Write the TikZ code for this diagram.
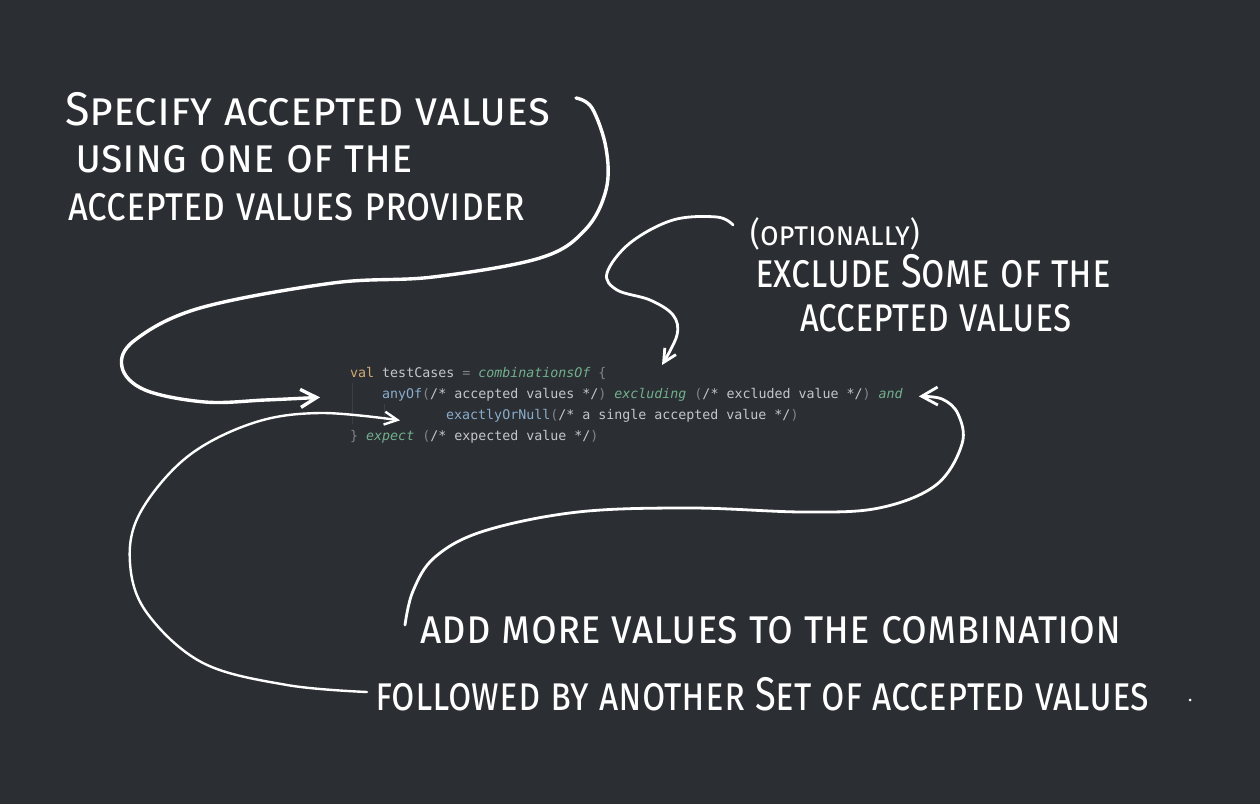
\documentclass[tikz,border=0pt]{standalone}
\usepackage{fontspec}
\setmainfont{Fira Sans}
\newfontfamily\handfont[Letters=SmallCaps]{Fira Sans}
\setmonofont{DejaVu Sans Mono}
\usetikzlibrary{arrows.meta,calc,positioning}
\definecolor{BoardBg}{HTML}{2B2E33}
\definecolor{Chalk}{HTML}{FFFFFF}
\definecolor{CodeText}{HTML}{C4C6CB}
\definecolor{CodeKey}{HTML}{D2AC72}
\definecolor{CodeCall}{HTML}{8AADCD}
\definecolor{CodeInfix}{HTML}{72B08D}
\definecolor{CodePunct}{HTML}{80848A}
\definecolor{CodeGuide}{HTML}{3C4046}
\tikzset{
  every node/.style={text=Chalk, inner sep=0pt},
  note/.style={font=\handfont\fontsize{40}{46}\selectfont, anchor=base west, text depth=0pt},
  smallnote/.style={font=\handfont\fontsize{28}{34}\selectfont, anchor=base west, text depth=0pt},
  codeline/.style={font=\ttfamily\fontsize{13.3}{16}\selectfont, text=CodeText, anchor=base west},
  chalkline/.style={draw=Chalk, line width=3pt, line cap=round, line join=round},
  pointer/.style={chalkline, -{Straight Barb[length=16pt,width=18pt]}},
  thinpointer/.style={chalkline, line width=2.4pt, -{Straight Barb[length=13pt,width=13pt]}},
}
\newcommand{\codekw}[1]{\textcolor{CodeKey}{#1}}
\newcommand{\codecall}[1]{\textcolor{CodeCall}{#1}}
\newcommand{\codeinfix}[1]{\textcolor{CodeInfix}{\itshape #1}}
\newcommand{\codepunct}[1]{\textcolor{CodePunct}{#1}}
% handwriting is taller than the font: stretch each line
\newcommand{\hand}[2]{\scalebox{#1}[1.18]{#2}}

\begin{document}
\begin{tikzpicture}[x=1pt,y=-1pt]
  \fill[BoardBg] (0,0) rectangle (1260,804);
  \useasboundingbox (0,0) rectangle (1260,804);

  % the code snippet
  \draw[CodeGuide, line width=0.8pt] (352,383) -- (352,424);
  \draw[CodeGuide, line width=0.8pt] (384,404) -- (384,424);
  \node[codeline] (valline) at (350,377)
    {\codekw{val} testCases \codepunct{=} \codeinfix{combinationsOf} \codepunct{\{}};
  \node[codeline] (anyofline) at (382,398)
    {\codecall{anyOf}\codepunct{(}/* accepted values */\codepunct{)} \codeinfix{excluding} \codepunct{(}/* excluded value */\codepunct{)} \codeinfix{and}};
  \node[codeline] (exactline) at (446,419)
    {\codecall{exactlyOrNull}\codepunct{(}/* a single accepted value */\codepunct{)}};
  \node[codeline] (expectline) at (350,440)
    {\codepunct{\}} \codeinfix{expect} \codepunct{(}/* expected value */\codepunct{)}};

  % handwritten notes
  \node[note] (specA) at (65,125) {\hand{1.12}{Specify accepted values}};
  \node[note] (specB) at (75,172) {\hand{1.09}{using one of the}};
  \node[note] (specC) at (68,220) {\hand{0.98}{accepted values provider}};
  \node[smallnote] (opt) at (750,245) {\hand{1.08}{(optionally)}};
  \node[note] (exclA) at (755,287) {\hand{0.95}{exclude Some of the}};
  \node[note] (exclB) at (800,331) {\hand{0.93}{accepted values}};
  \node[note] (addmore) at (420,643) {\hand{1.05}{add more values to the combination}};
  \node[note] (followed) at (375,710) {\hand{0.95}{followed by another Set of accepted values}};
  \fill[Chalk] (1190,700) circle (1.5);

  % free ends of the arrows
  \coordinate (specout) at (576,98);
  \coordinate (anyin) at ([xshift=-62pt,yshift=-3pt]anyofline.west);
  \coordinate (exactin) at ([xshift=-46pt,yshift=-5pt]exactline.west);
  \coordinate (andin) at ([xshift=16pt,yshift=-2pt]anyofline.east);
  \coordinate (optout) at (733,225);
  \coordinate (excludingin) at (662,365);
  \coordinate (addout) at (405,625);
  \coordinate (followout) at (367,692);

  % arrows
  \draw[pointer, line width=3.4pt] plot[smooth, tension=0.6] coordinates {
    (specout) (592,108) (606,148) (606,190) (585,230) (540,258) (433,277) (333,283)
    (200,308) (135,340) (122,367) (145,390) (205,402) (265,400) (anyin)};
  \draw[thinpointer] plot[smooth, tension=0.6] coordinates {
    (followout) (287,685) (203,663) (147,613) (130,563) (140,513) (187,457)
    (253,423) (320,413) (exactin)};
  \draw[pointer, line width=2.8pt] plot[smooth, tension=0.6] coordinates {
    (addout) (413,591) (435,557) (484,531) (578,512) (691,508) (804,512)
    (879,508) (936,485) (962,444) (958,414) (942,399) (andin)};
  \draw[thinpointer, line width=2.8pt] plot[smooth, tension=0.6] coordinates {
    (optout) (717,217) (673,220) (630,243) (607,273) (617,290) (650,300)
    (673,315) (677,335) (excludingin)};
\end{tikzpicture}
\end{document}
